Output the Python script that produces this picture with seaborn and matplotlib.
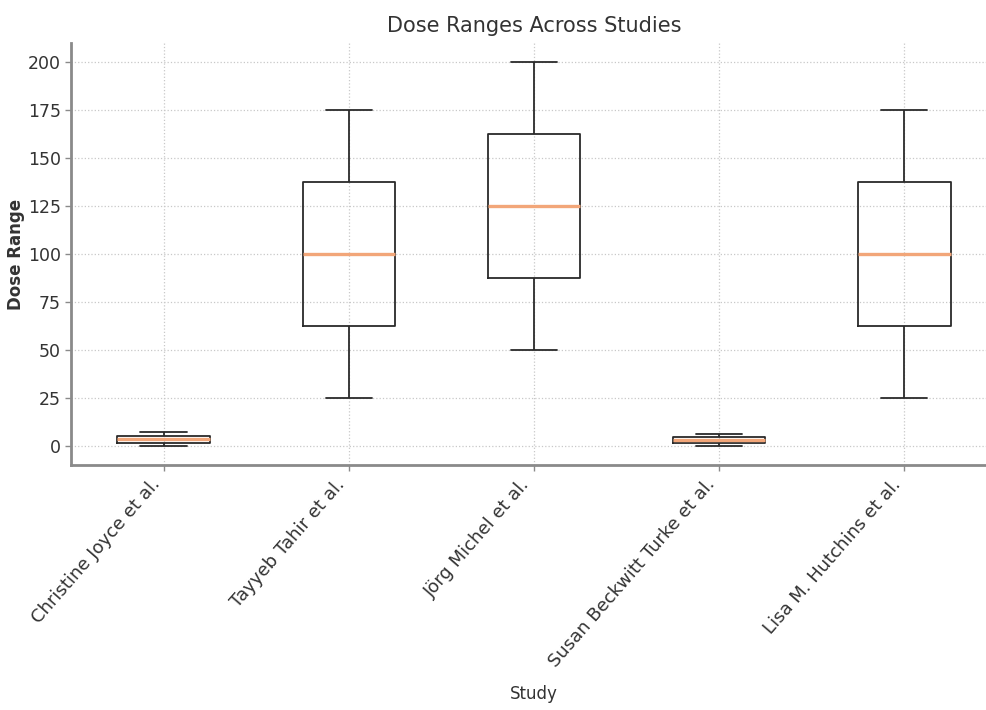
import pandas as pd
import seaborn as sns
import matplotlib.pyplot as plt

# Dose range (min, max) reported per study
studies = ["Christine Joyce et al.", "Tayyeb Tahir et al.", "Jörg Michel et al.",
           "Susan Beckwitt Turke et al.", "Lisa M. Hutchins et al."]
dose_min = [0, 25, 50, 0, 25]
dose_max = [7, 175, 200, 6, 175]

df = pd.DataFrame({
    "Study": studies + studies,
    "Dose": dose_min + dose_max,
})

sns.set_style("white")
plt.rcParams["font.family"] = ["DejaVu Sans"]

fig = plt.figure(figsize=(9.87, 7.10), dpi=100)
ax = fig.add_axes([0.072, 0.345, 0.938, 0.594])

sns.boxplot(data=df, x="Study", y="Dose", order=studies, ax=ax,
            width=0.5, fill=False, color="#2a2a2a", linewidth=1.3,
            medianprops={"color": "#F2A679", "linewidth": 2.4})

ax.set_xlim(-0.5, 4.5)
ax.set_ylim(-10, 210)
ax.set_yticks(range(0, 201, 25))

ax.grid(True, linestyle=":", color="#c8c8c8", linewidth=0.9)
ax.set_axisbelow(True)
for side in ["top", "right"]:
    ax.spines[side].set_visible(False)
for side in ["left", "bottom"]:
    ax.spines[side].set_color("#8a8a8a")
    ax.spines[side].set_linewidth(2)

ax.tick_params(axis="both", colors="#8a8a8a", labelcolor="#333333",
               labelsize=13, length=4, width=1, direction="out",
               bottom=True, left=True)
ax.tick_params(axis="y", labelsize=12.5)
plt.setp(ax.get_xticklabels(), rotation=49, ha="right", rotation_mode="default")

ax.set_title("Dose Ranges Across Studies", fontsize=15, color="#333333", pad=8)
ax.set_xlabel("Study", fontsize=12, color="#333333", labelpad=10)
ax.set_ylabel("Dose Range", fontsize=12, fontweight="bold", color="#333333", labelpad=2)

fig.savefig("out.png", dpi=100)
